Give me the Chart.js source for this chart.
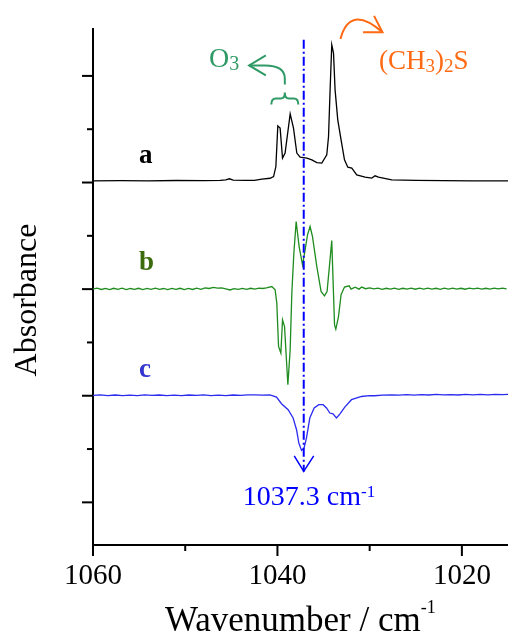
<!DOCTYPE html>
<html>
<head>
<meta charset="utf-8">
<script src="https://cdn.jsdelivr.net/npm/chart.js@4/dist/chart.umd.min.js"></script>
<style>
  body { margin: 0; background: #fff; }
  canvas { display: block; }
</style>
</head>
<body>
<canvas id="chart" width="508" height="633"></canvas>
<script>
// spectra: [wavenumber, absorbance relative to its own baseline]
var specA = [
  [1060, 0.016], [1057, 0.018], [1054, 0.016], [1051, 0.019], [1048, 0.017], [1046.2, 0.020],
  [1045.6, 0.024], [1045.2, 0.035], [1044.8, 0.022], [1043.5, 0.020], [1042.5, 0.021], [1041.69, 0.032],
  [1040.8, 0.040], [1040.42, 0.056], [1040.17, 0.150], [1039.96, 0.531], [1039.71, 0.510], [1039.45, 0.229],
  [1039.17, 0.276], [1038.62, 0.644], [1038.26, 0.510], [1037.90, 0.276], [1037.54, 0.238], [1036.81, 0.229],
  [1036.27, 0.213], [1035.73, 0.187], [1035.19, 0.182], [1034.65, 0.260], [1034.46, 0.431], [1034.29, 0.869],
  [1034.11, 1.291], [1033.92, 1.213], [1033.75, 0.869], [1033.46, 0.588], [1033.10, 0.400], [1032.73, 0.213],
  [1032.37, 0.144], [1031.94, 0.135], [1031.40, 0.072], [1030.50, 0.051], [1029.77, 0.041], [1029.41, 0.063],
  [1029.05, 0.051], [1027.61, 0.025], [1025, 0.020], [1022, 0.017], [1019, 0.016], [1015, 0.016]
];
var specB = [
  [1060.0, 0.002], [1059.55, 0.009], [1059.1, -0.003], [1058.65, 0.007], [1058.2, -0.005], [1057.75, 0.008],
  [1057.3, -0.002], [1056.85, 0.009], [1056.4, -0.004], [1055.95, 0.006], [1055.5, -0.003], [1055.05, 0.008],
  [1054.6, -0.004], [1054.15, 0.007], [1053.7, -0.002], [1053.25, 0.009], [1052.8, -0.003], [1052.35, 0.006],
  [1051.9, -0.005], [1051.45, 0.007], [1051.0, -0.002], [1050.55, 0.008], [1050.1, -0.004], [1049.65, 0.007],
  [1049.2, -0.003], [1048.75, 0.009], [1048.3, -0.002], [1047.85, 0.012], [1047.4, 0.006], [1046.95, 0.016],
  [1046.5, 0.010], [1046.05, 0.012], [1045.6, 0.002], [1045.15, -0.008], [1044.7, 0.004], [1044.25, -0.003],
  [1043.8, 0.007], [1043.35, -0.002], [1042.9, 0.008], [1042.45, 0.000], [1042.0, 0.009], [1041.6, 0.006],
  [1041.2, 0.012], [1040.61, 0.024], [1040.25, -0.007], [1040.07, -0.131], [1039.88, -0.538], [1039.63, -0.600],
  [1039.45, -0.288], [1039.23, -0.351], [1038.87, -0.897], [1038.62, -0.569], [1038.44, -0.037], [1038.22, 0.337],
  [1037.97, 0.634], [1037.65, 0.399], [1037.28, 0.228], [1037.00, 0.368], [1036.74, 0.509], [1036.46, 0.587],
  [1036.20, 0.493], [1035.73, 0.212], [1035.27, -0.022], [1034.90, -0.063], [1034.62, -0.022], [1034.40, 0.181],
  [1034.11, 0.455], [1033.81, -0.335], [1033.67, -0.375], [1033.38, -0.257], [1033.10, -0.053], [1032.73, 0.019],
  [1032.23, 0.031], [1032.01, 0.000], [1031.58, 0.019], [1031.15, 0.000], [1030.86, 0.019], [1030.45, 0.004],
  [1030.0, 0.012], [1029.55, 0.002], [1029.1, 0.010], [1028.65, -0.002], [1028.2, 0.008], [1027.75, 0.000],
  [1027.3, 0.009], [1026.85, -0.002], [1026.4, 0.008], [1025.95, 0.001], [1025.5, 0.010], [1025.05, -0.001],
  [1024.6, 0.009], [1024.15, 0.001], [1023.7, 0.010], [1023.25, 0.000], [1022.8, 0.008], [1022.35, -0.002],
  [1021.9, 0.009], [1021.45, 0.001], [1021.0, 0.010], [1020.55, 0.000], [1020.1, 0.008], [1019.65, -0.001],
  [1019.2, 0.009], [1018.75, 0.002], [1018.3, 0.010], [1017.85, 0.000], [1017.4, 0.008], [1016.95, 0.001],
  [1016.5, 0.010], [1016.05, 0.002], [1015.6, 0.009], [1015.15, 0.003]
];
var specC = [
  [1060, 0.004], [1059.2, 0.008], [1058.4, 0.002], [1057.6, 0.007], [1056.8, 0.001], [1056.0, 0.006],
  [1055.2, 0.002], [1054.4, 0.008], [1053.6, 0.003], [1052.8, 0.007], [1052.0, 0.001], [1051.2, 0.006],
  [1050.4, 0.002], [1049.6, 0.007], [1048.8, 0.003], [1048.0, 0.008], [1047.2, 0.002], [1046.4, 0.006],
  [1045.6, 0.001], [1044.8, 0.007], [1044.0, 0.003], [1043.2, 0.008], [1042.45, 0.009], [1041.6, 0.006],
  [1040.82, 0.009], [1040.10, -0.012], [1039.56, -0.075], [1038.84, -0.131], [1038.30, -0.209], [1037.93, -0.319],
  [1037.68, -0.443], [1037.39, -0.513], [1037.11, -0.490], [1036.85, -0.396], [1036.49, -0.209], [1036.02, -0.115],
  [1035.51, -0.084], [1035.05, -0.084], [1034.68, -0.115], [1034.32, -0.162], [1033.97, -0.169], [1033.60, -0.209],
  [1033.24, -0.172], [1032.70, -0.106], [1031.97, -0.037], [1030.89, -0.007], [1030.0, 0.002], [1029.45, 0.000],
  [1028.6, 0.006], [1027.64, 0.009], [1026.8, 0.005], [1026.0, 0.010], [1025.2, 0.006], [1024.4, 0.011],
  [1023.6, 0.007], [1022.8, 0.012], [1022.0, 0.008], [1021.2, 0.011], [1020.4, 0.007], [1019.6, 0.012],
  [1018.8, 0.008], [1018.0, 0.012], [1017.2, 0.009], [1016.4, 0.013], [1015.6, 0.010], [1015.0, 0.012]
];

var curveNames = ['a', 'b', 'c'];
var curveOffsets = [3, 2, 1];
var curveColors = ['#000000', '#1e8c1e', '#2b2bf0'];
var nameColors = ['#000000', '#3b6b0c', '#3535d0'];
var xTickVals = [1060, 1050, 1040, 1030, 1020];
var yTickVals = [0, 0.5, 1, 1.5, 2, 2.5, 3, 3.5, 4];
var bandPos = 1037.3;

var SERIF = '"Liberation Serif", "Times New Roman", serif';

function richText(ctx, parts, x, y, color) {
  ctx.fillStyle = color;
  ctx.textAlign = 'left';
  ctx.textBaseline = 'alphabetic';
  var cx = x;
  parts.forEach(function(p) {
    ctx.font = (p.bold ? 'bold ' : '') + p.size + 'px ' + SERIF;
    ctx.fillText(p.t, cx, y + (p.dy || 0));
    cx += ctx.measureText(p.t).width;
  });
}

function line(ctx, pts) {
  ctx.beginPath();
  ctx.moveTo(pts[0][0], pts[0][1]);
  for (var i = 1; i < pts.length; i++) ctx.lineTo(pts[i][0], pts[i][1]);
  ctx.stroke();
}

var annot = {
  id: 'annot',
  afterDraw: function(chart) {
    var ctx = chart.ctx, ca = chart.chartArea;
    var xs = chart.scales.x, ys = chart.scales.y;
    var X = function(v) { return xs.getPixelForValue(v); };
    var Y = function(v) { return ys.getPixelForValue(v); };
    ctx.save();

    // tick marks, long on whole units, short between
    ctx.strokeStyle = '#000';
    ctx.lineWidth = 2;
    ctx.lineCap = 'butt';
    yTickVals.forEach(function(v) {
      var len = (v % 1 === 0) ? 11 : 6;
      line(ctx, [[ca.left - len, Y(v)], [ca.left, Y(v)]]);
    });
    xTickVals.forEach(function(v) {
      var len = (v % 20 === 0) ? 11 : 6;
      line(ctx, [[X(v), ca.bottom], [X(v), ca.bottom + len]]);
    });

    // curve names
    curveNames.forEach(function(n, i) {
      richText(ctx, [{t: n, size: 27, bold: true}], X(1055), Y(curveOffsets[i] + 0.18), nameColors[i]);
    });

    // dash-dot marker line with arrow
    var bx = X(bandPos - 0.15);
    var top = Y(4.34), tip = Y(0.29);
    ctx.strokeStyle = '#0000ff';
    ctx.lineWidth = 2;
    ctx.setLineDash([9, 3, 2, 3]);
    line(ctx, [[bx, top], [bx, tip]]);
    ctx.setLineDash([]);
    ctx.lineWidth = 1.5;
    line(ctx, [[bx - 9.5, tip - 15.5], [bx, tip], [bx + 10, tip - 15.5]]);
    richText(ctx, [{t: '1037.3 cm', size: 28}, {t: '-1', size: 17, dy: -8}], X(1043.75), Y(-0.025), '#0000ff');

    // O3 brace and arrow
    var gx = X(1039.2), gy = Y(3.845);
    ctx.strokeStyle = '#2f9a66';
    ctx.lineWidth = 2;
    ctx.beginPath();
    ctx.moveTo(gx - 13.5, gy + 12);
    ctx.quadraticCurveTo(gx - 13.5, gy + 6, gx - 9, gy + 6);
    ctx.lineTo(gx - 4, gy + 6);
    ctx.quadraticCurveTo(gx, gy + 6, gx, gy);
    ctx.quadraticCurveTo(gx, gy + 6, gx + 4, gy + 6);
    ctx.lineTo(gx + 9, gy + 6);
    ctx.quadraticCurveTo(gx + 13.5, gy + 6, gx + 13.5, gy + 12);
    ctx.stroke();
    ctx.beginPath();
    ctx.moveTo(gx, gy - 8);
    ctx.lineTo(gx, gy - 14);
    ctx.quadraticCurveTo(gx, gy - 27, gx - 20, gy - 27);
    ctx.lineTo(gx - 35.7, gy - 27);
    ctx.stroke();
    line(ctx, [[gx - 19, gy - 37], [gx - 35.7, gy - 27], [gx - 19, gy - 17]]);
    richText(ctx, [{t: 'O', size: 28}, {t: '3', size: 20, dy: 3}], X(1047.43), Y(4.08), '#2f9a66');

    // (CH3)2S arrow
    var ox = X(1034.11), oy = Y(4.291);
    ctx.strokeStyle = '#ff6a14';
    ctx.lineWidth = 2;
    ctx.beginPath();
    ctx.moveTo(ox + 8.7, oy - 6);
    ctx.quadraticCurveTo(ox + 18, oy - 41, ox + 50.7, oy - 12.7);
    ctx.stroke();
    line(ctx, [[ox + 31.3, oy - 12.7], [ox + 50.7, oy - 12.7], [ox + 42.3, oy - 29]]);
    richText(ctx, [
      {t: '(CH', size: 27}, {t: '3', size: 19, dy: 3}, {t: ')', size: 27},
      {t: '2', size: 19, dy: 3}, {t: 'S', size: 27}
    ], X(1028.98), Y(4.067), '#ff6a14');

    // axis titles
    richText(ctx, [{t: 'Wavenumber / cm', size: 35}, {t: '-1', size: 18, dy: -18}], 165, 631, '#000');
    ctx.translate(36, 300);
    ctx.rotate(-Math.PI / 2);
    ctx.font = '32px ' + SERIF;
    ctx.fillStyle = '#000';
    ctx.textAlign = 'center';
    ctx.textBaseline = 'alphabetic';
    ctx.fillText('Absorbance', 0, 0);
    ctx.restore();
  }
};

function toPoints(spec, off) {
  return spec.map(function(p) { return {x: p[0], y: p[1] + off}; });
}

var datasets = [specA, specB, specC].map(function(s, i) {
  return {
    data: toPoints(s, curveOffsets[i]),
    borderColor: curveColors[i],
    borderWidth: 1.3,
    pointRadius: 0,
    tension: 0,
    fill: false
  };
});

var axisGrid = { drawOnChartArea: false, drawTicks: false };
var axisBorder = { display: true, color: '#000', width: 2 };

new Chart(document.getElementById('chart'), {
  type: 'line',
  data: { datasets: datasets },
  options: {
    responsive: false,
    animation: false,
    devicePixelRatio: 1,
    layout: { padding: { top: 29, left: 0, right: 0, bottom: 0 } },
    plugins: { legend: { display: false }, tooltip: { enabled: false } },
    scales: {
      x: {
        type: 'linear',
        reverse: true,
        min: 1015,
        max: 1060,
        afterFit: function(s) { s.height = 88; },
        ticks: {
          stepSize: 10,
          includeBounds: false,
          autoSkip: false,
          maxRotation: 0,
          padding: 14,
          color: '#000',
          font: { family: SERIF, size: 29 },
          callback: function(v) { return v % 20 === 0 ? String(v) : ''; }
        },
        grid: axisGrid,
        border: axisBorder
      },
      y: {
        min: -0.4,
        max: 4.44,
        afterFit: function(s) { s.width = 93; },
        ticks: { display: false, stepSize: 0.5 },
        grid: axisGrid,
        border: axisBorder
      }
    }
  },
  plugins: [annot]
});
</script>
</body>
</html>
